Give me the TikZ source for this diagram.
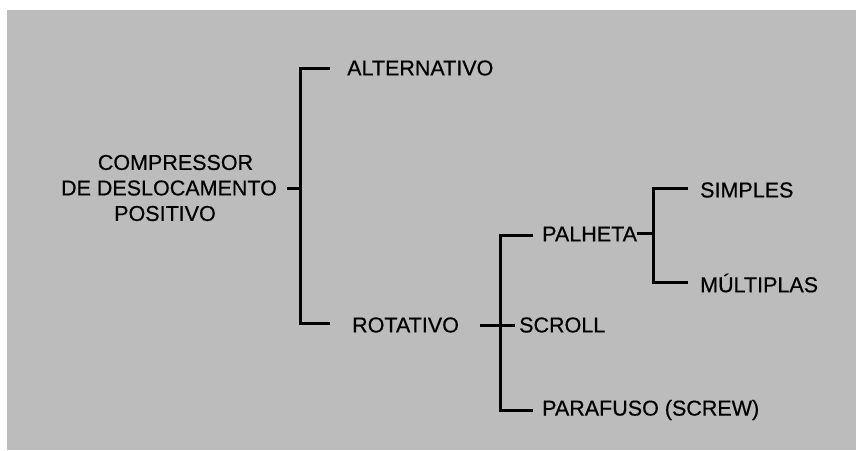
\documentclass[tikz,border=0pt]{standalone}
\usepackage{fontspec}
\setmainfont{Liberation Sans}
\newfontfamily\labelfont[FakeBold=0.5]{Liberation Sans}
\definecolor{paper}{RGB}{188,188,188}
\begin{document}
\begin{tikzpicture}[x=1pt,y=-1pt,
  lbl/.style={inner sep=0pt,font=\labelfont\fontsize{21.5}{25.5}\selectfont,text=black},
  link/.style={line width=3pt,draw=black},
  ]
% page and shaded print area
\useasboundingbox (0,0) rectangle (856,450);
\fill[white] (0,0) rectangle (856,450);
\fill[paper] (7,10) rectangle (856,450);

% labels
\node[lbl,align=center] (root) at (169,188)
  {\hspace*{13pt}COMPRESSOR\\DE DESLOCAMENTO\\POSITIVO\hspace*{8pt}};
\node[lbl,anchor=west] (alt) at (347,68) {ALTERNATIVO};
\node[lbl,anchor=west] (rot) at (352,325) {ROTATIVO};
\node[lbl,anchor=west] (pal) at (542,234) {PALHETA};
\node[lbl,anchor=west] (scr) at (519,325) {SCROLL};
\node[lbl,anchor=west] (par) at (542,410) {PARAFUSO (SCREW)};
\node[lbl,anchor=west] (sim) at (700,190) {SIMPLES};
\node[lbl,anchor=west] (mul) at (700,283) {MÚLTIPLAS};

% junction points of the tree
\coordinate (j1) at (300,188);
\coordinate (j2) at (500,325);
\coordinate (j3) at (653,233);

% first level
\draw[link] (287,188) -- (j1);
\draw[link] (330,68) -| (300,323) -- (330,323);

% second level
\draw[link] (480,325) -- (515,325);
\draw[link] (533,235) -| (500,410) -- (533,410);

% third level
\draw[link] (pal.east |- j3) -- (j3);
\draw[link] (688,188) -| (653,282) -- (688,282);
\end{tikzpicture}
\end{document}
